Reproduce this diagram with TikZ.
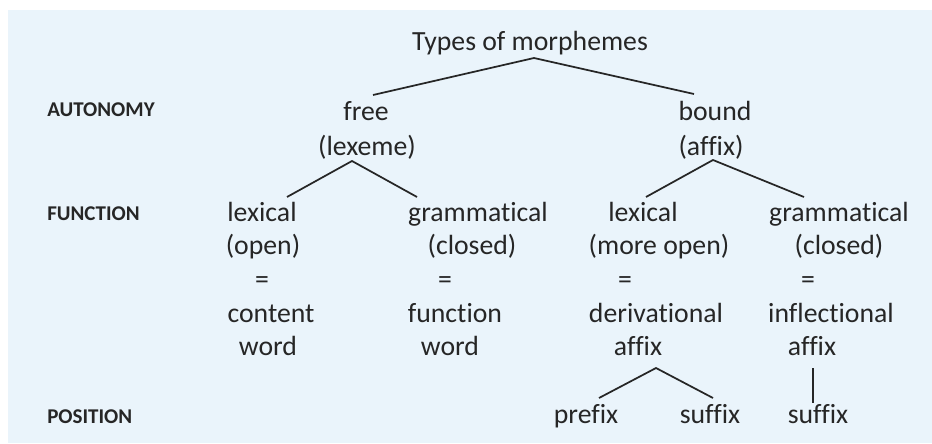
\documentclass[tikz,border=0pt]{standalone}
\usepackage{fontspec}
\setmainfont[Ligatures={NoCommon}]{Carlito}
\usetikzlibrary{calc}
\definecolor{bgblue}{HTML}{EAF4FB}
\definecolor{ink}{HTML}{262626}

\begin{document}
\begin{tikzpicture}[x=0.75pt, y=-0.75pt,
  every node/.style={inner sep=0pt, anchor=base, text=ink},
  word/.style={font=\fontsize{20.8}{24}\selectfont},
  level/.style={font=\fontsize{15.75}{19}\selectfont\bfseries, anchor=base west},
  branch/.style={draw=ink, line width=1.3pt, line join=round}]

\useasboundingbox (0,0) rectangle (932,443);
\fill[bgblue] (8,10) rectangle (932,443);

% -------- Levels -----------
\node[level] (autonomy) at (47,116) {AUTONOMY};
\node[level] (function) at (47,220) {FUNCTION};
\node[level] (position) at (47,423) {POSITION};

% -------- Top -----------
\node[word] (root)   at (530,50)  {Types of morphemes};
\node[word] (free)   at (366,120) {free};
\node[word] (lexeme) at (367,155) {(lexeme)};
\node[word] (bound)  at (715,120) {bound};
\node[word] (affix)  at (711,155) {(affix)};

% -------- Free morphemes -----------
\node[word] (lexA)     at (262,221) {lexical};
\node[word] (openA)    at (263,254) {(open)};
\node[word] (eqA)      at (262,288) {=};
\node[word] (contentA) at (271,322) {content};
\node[word] (wordA)    at (268,355) {word};

\node[word] (gramB)     at (478,221) {grammatical};
\node[word] (closedB)   at (472,254) {(closed)};
\node[word] (eqB)       at (445,288) {=};
\node[word] (functionB) at (455,322) {function};
\node[word] (wordB)     at (450,355) {word};

% -------- Bound morphemes -----------
\node[word] (lexC)      at (643,221) {lexical};
\node[word] (moreopenC) at (659,254) {(more open)};
\node[word] (eqC)       at (625,288) {=};
\node[word] (derivC)    at (656,322) {derivational};
\node[word] (affixC)    at (638,355) {affix};

\node[word] (gramD)   at (839,221) {grammatical};
\node[word] (closedD) at (839,254) {(closed)};
\node[word] (eqD)     at (808,288) {=};
\node[word] (inflD)   at (831,322) {inflectional};
\node[word] (affixD)  at (812,355) {affix};

\node[word] (prefixC) at (586,423) {prefix};
\node[word] (suffixC) at (710,423) {suffix};
\node[word] (suffixD) at (818,423) {suffix};

% -------- Branches -----------
\draw[branch] ($(free.base)+(7,-25)$) -- ($(root.base)+(4,8)$) -- ($(bound.base)+(-21,-26)$);
\draw[branch] ($(lexA.base)+(25,-24)$) -- ($(lexeme.base)+(-15,6)$) -- ($(gramB.base)+(-61,-24)$);
\draw[branch] ($(lexC.base)+(3,-24)$) -- ($(affix.base)+(2,5)$) -- ($(gramD.base)+(-35,-24)$);
\draw[branch] ($(prefixC.base)+(13,-25)$) -- ($(affixC.base)+(18,13)$) -- ($(suffixC.base)+(3,-25)$);
\draw[branch] ($(affixD.base)+(1,13)$) -- ($(suffixD.base)+(-5,-20)$);
\end{tikzpicture}
\end{document}
